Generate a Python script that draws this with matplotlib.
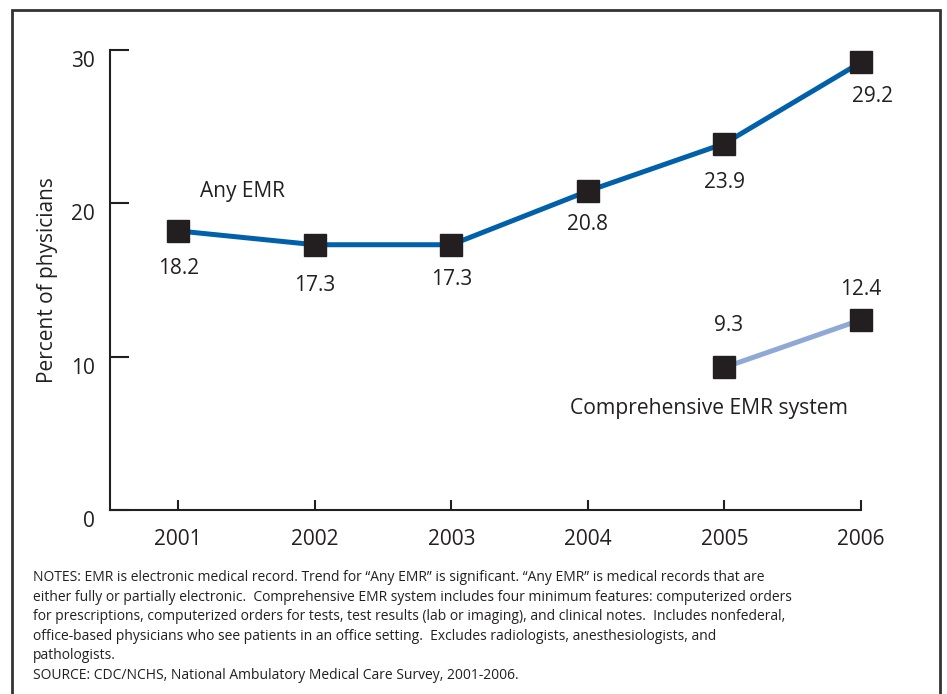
import matplotlib.pyplot as plt
import matplotlib.transforms as mtransforms
from matplotlib.patches import Rectangle

plt.rcParams['font.family'] = ['Open Sans', 'DejaVu Sans']

years = [2001, 2002, 2003, 2004, 2005, 2006]
any_emr = [18.2, 17.3, 17.3, 20.8, 23.9, 29.2]
comp_years = [2005, 2006]
comp_emr = [9.3, 12.4]
# label offsets (points) relative to each marker
any_offsets = [(0, -27), (0, -29), (0, -25), (0, -24), (0, -28), (8, -25)]
comp_offsets = [(3, 30), (0, 22)]
yticks = [0, 10, 20, 30]

dark = '#231f20'
blue = '#0060a9'
light_blue = '#90a8d6'

fig = plt.figure(figsize=(9.47, 6.94), dpi=100)
ax = fig.add_axes([110 / 947, 1 - 510 / 694, (861 - 110) / 947, 460 / 694])

ax.plot(years, any_emr, color=blue, lw=3.6, marker='s', ms=15.5,
        mfc=dark, mec=dark, zorder=3, clip_on=False)
ax.plot(comp_years, comp_emr, color=light_blue, lw=3.6, marker='s', ms=15.5,
        mfc=dark, mec=dark, zorder=3, clip_on=False)

for x, y, off in zip(years, any_emr, any_offsets):
    ax.annotate(f'{y:.1f}', (x, y), xytext=off, textcoords='offset points',
                ha='center', va='center', fontsize=15, color=dark)
for x, y, off in zip(comp_years, comp_emr, comp_offsets):
    ax.annotate(f'{y:.1f}', (x, y), xytext=off, textcoords='offset points',
                ha='center', va='center', fontsize=15, color=dark)

ax.text(2001.16, 20.74, 'Any EMR', fontsize=15, color=dark, va='center')
ax.text(2003.87, 6.65, 'Comprehensive EMR system', fontsize=15.2, color=dark,
        va='center')

ax.set_xlim(2000.5, 2006)
ax.set_ylim(0, 30)
ax.set_xticks(years)
ax.set_yticks(yticks)
ax.tick_params(axis='x', direction='in', length=7, width=1.5, color=dark,
               labelsize=15, labelcolor=dark, pad=14)
ax.tick_params(axis='y', direction='in', length=14, width=1.5, color=dark,
               labelsize=15, labelcolor=dark, pad=11)
# y labels sit a little below their ticks in the original
shift = mtransforms.ScaledTranslation(0, -9 / 100, fig.dpi_scale_trans)
for lbl in ax.get_yticklabels():
    lbl.set_transform(lbl.get_transform() + shift)

for s in ['top', 'right']:
    ax.spines[s].set_visible(False)
for s in ['left', 'bottom']:
    ax.spines[s].set_linewidth(1.5)
    ax.spines[s].set_color(dark)

fig.text(47 / 947, 1 - 280 / 694, 'Percent of physicians', rotation=90,
         fontsize=15, color=dark, ha='center', va='center')

notes = ('NOTES: EMR is electronic medical record. Trend for \u201cAny EMR\u201d is significant. \u201cAny EMR\u201d is medical records that are\n'
         'either fully or partially electronic.  Comprehensive EMR system includes four minimum features: computerized orders\n'
         'for prescriptions, computerized orders for tests, test results (lab or imaging), and clinical notes.  Includes nonfederal,\n'
         'office-based physicians who see patients in an office setting.  Excludes radiologists, anesthesiologists, and\n'
         'pathologists.\n'
         'SOURCE: CDC/NCHS, National Ambulatory Medical Care Survey, 2001-2006.')
fig.text(33 / 947, 1 - 570 / 694, notes, fontsize=10, color=dark,
         ha='left', va='top', linespacing=1.42)

fig.patches.append(Rectangle((12 / 947, -0.05), (940 - 12) / 947, 1.05 - 10 / 694,
                             transform=fig.transFigure, fill=False,
                             ec='#333333', lw=2))

fig.savefig('out.png', dpi=100)
